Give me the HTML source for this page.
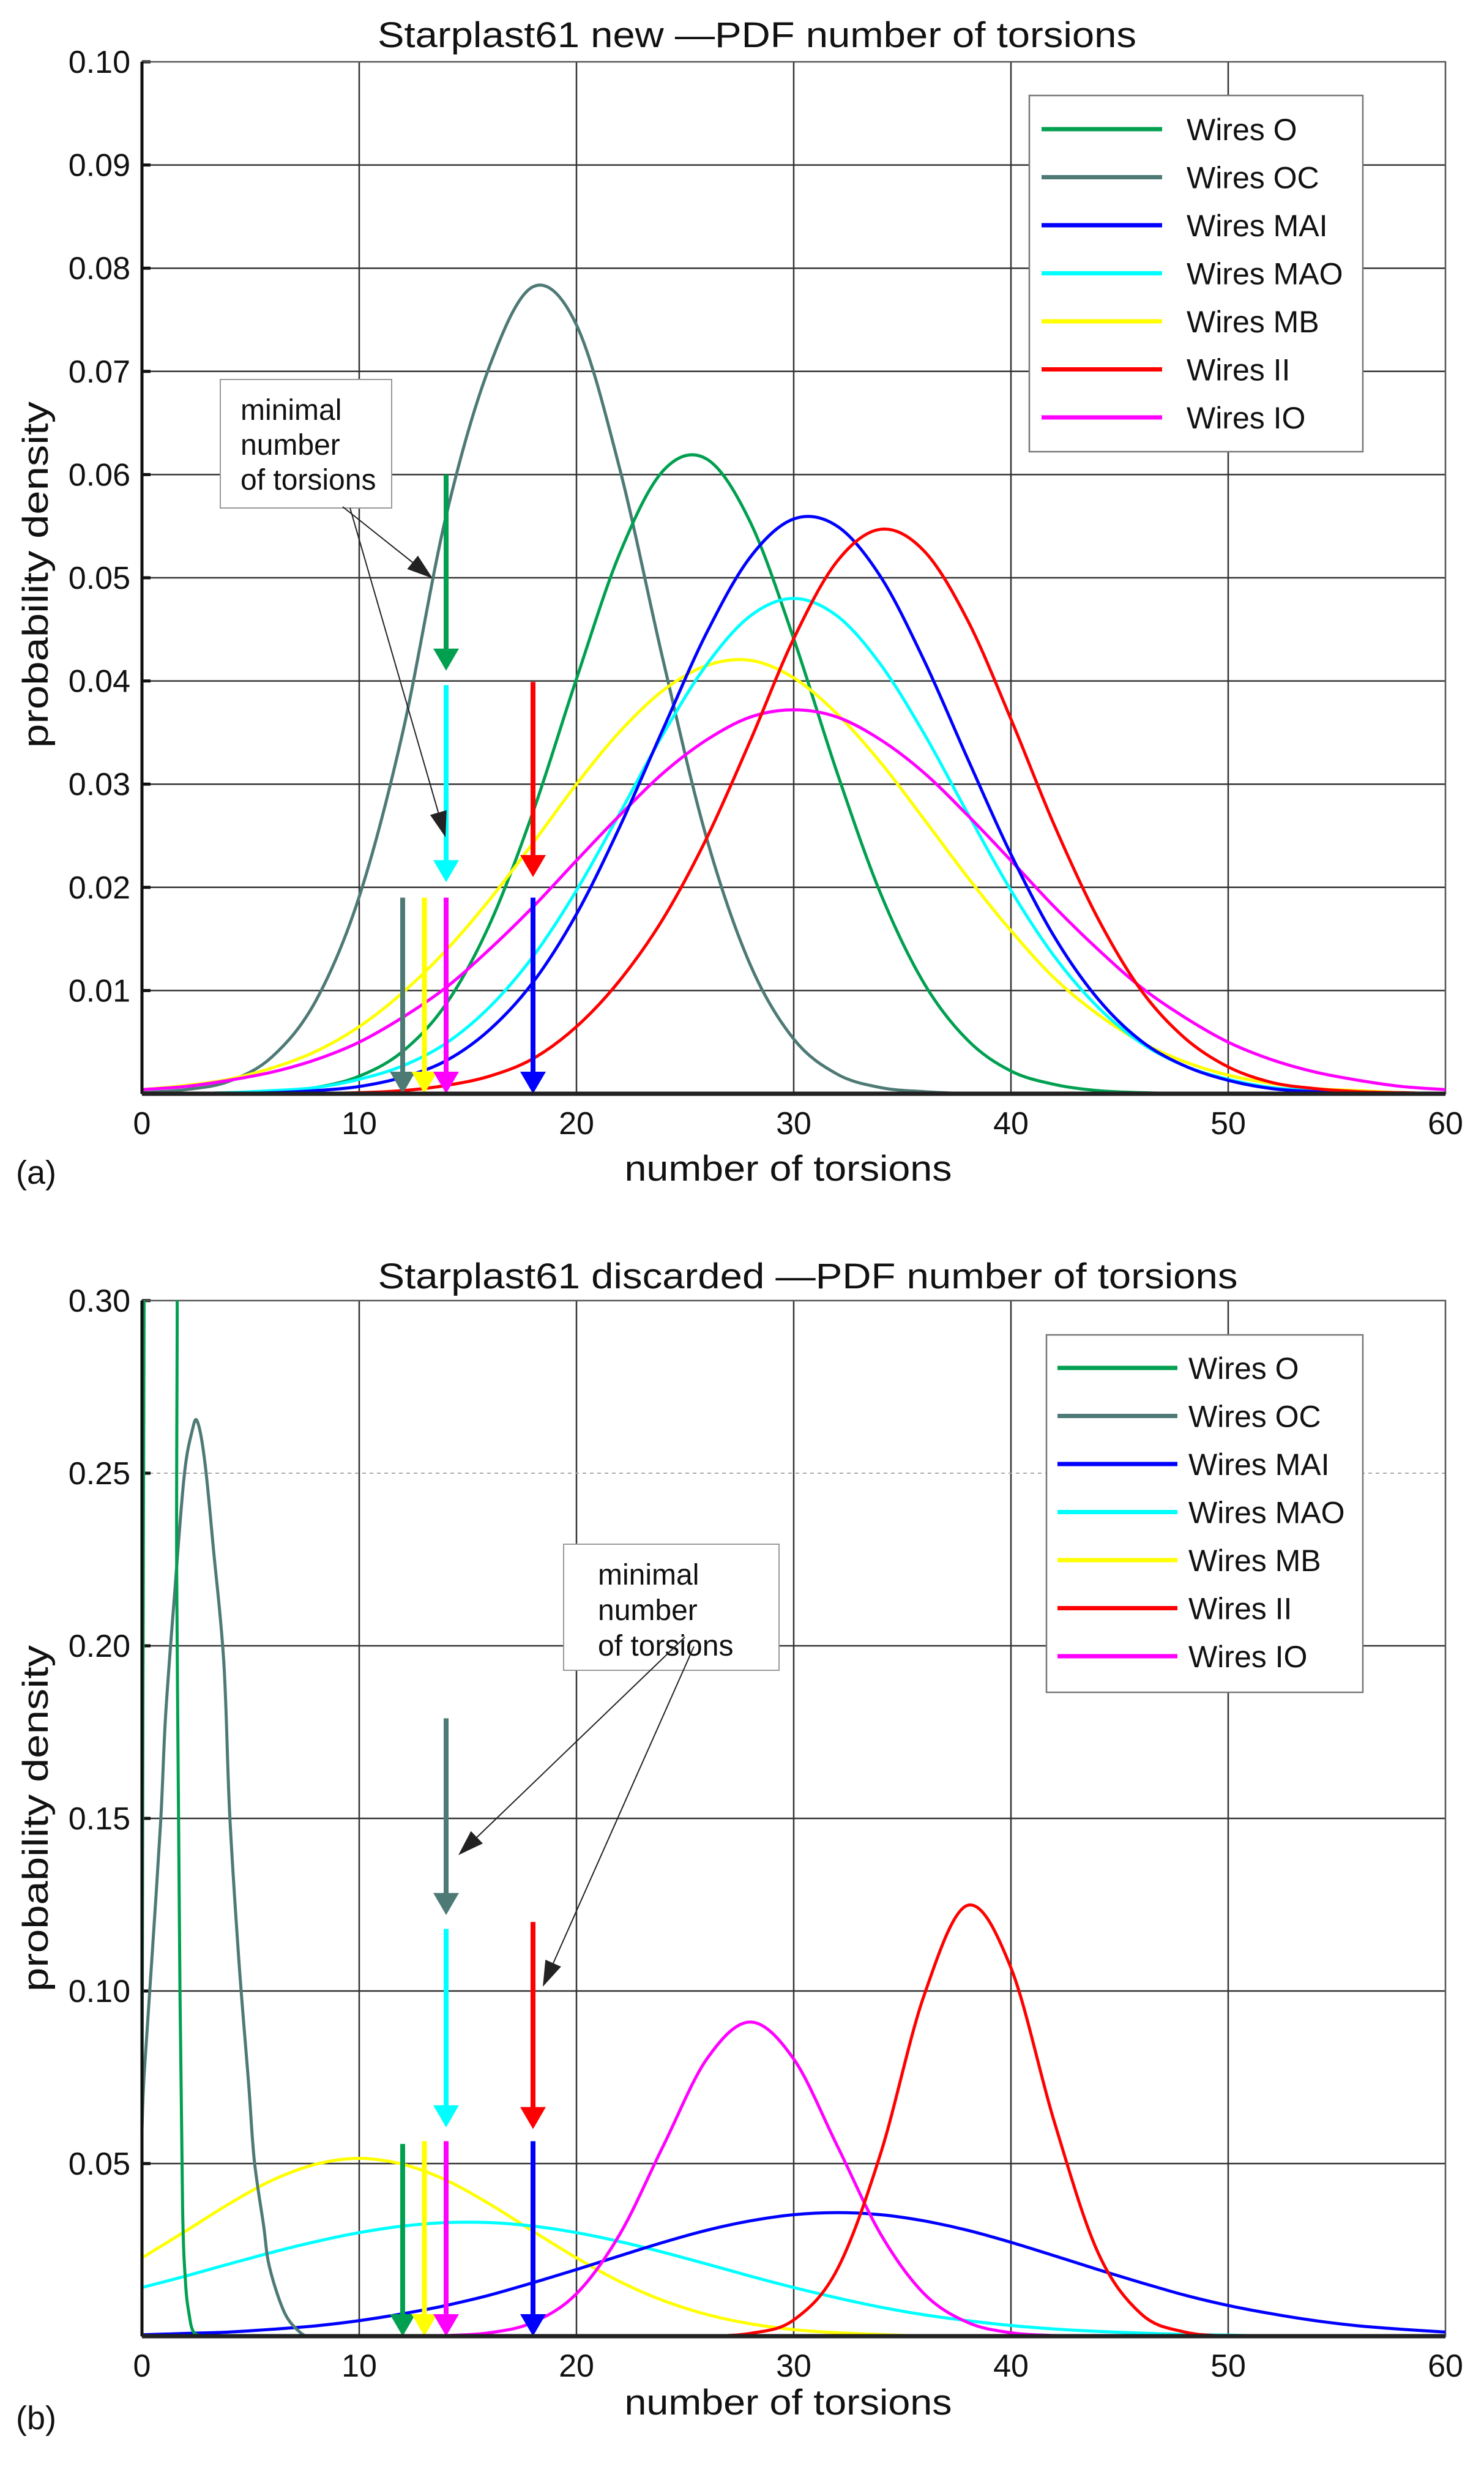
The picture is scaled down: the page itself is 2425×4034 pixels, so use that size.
<!DOCTYPE html>
<html><head><meta charset="utf-8"><title>Starplast61 PDF number of torsions</title>
<style>
html,body{margin:0;padding:0;background:#fff;}
svg{display:block;font-family:"Liberation Sans",Arial,sans-serif;}
</style></head>
<body>
<svg id="fig" xmlns="http://www.w3.org/2000/svg" width="2425" height="4034" viewBox="0 0 2425 4034">
<defs>
<clipPath id="clipA"><rect x="232" y="101" width="2130" height="1686"/></clipPath>
<clipPath id="clipB"><rect x="232" y="2125" width="2130" height="1692"/></clipPath>
</defs>
<rect x="0" y="0" width="2425" height="4034" fill="#fff"/>
</svg>
<script>
// ---------- data ----------
const xTickValues = [0,10,20,30,40,50,60];
const yTicksA = [0.01,0.02,0.03,0.04,0.05,0.06,0.07,0.08,0.09,0.10];
const yTickLabelsA = ["0.01","0.02","0.03","0.04","0.05","0.06","0.07","0.08","0.09","0.10"];
const yTicksB = [0.05,0.10,0.15,0.20,0.25,0.30];
const yTickLabelsB = ["0.05","0.10","0.15","0.20","0.25","0.30"];
const seriesNames = ["Wires O","Wires OC","Wires MAI","Wires MAO","Wires MB","Wires II","Wires IO"];
const seriesColors = ["#00a050","#4e7a76","#0000ff","#00ffff","#ffff00","#ff0000","#ff00ff"];
const gridX = [0,2,4,6,8,10,12,14,16,18,20,22,24,26,28,30,32,34,36,38,40,42,44,46,48,50,52,54,56,58,60];

// panel (a) — values at gridX
const a_O   = [0,0,0.0001,0.0002,0.0006,0.0017,0.0041,0.0087,0.0164,0.0273,0.0402,0.0524,0.0604,0.0615,0.0554,0.0441,0.0311,0.0194,0.0107,0.0052,0.0022,0.0009,0.0003,0.0001,0,0,0,0,0,0,0];
const a_OC  = [0.0001,0.0004,0.0012,0.0036,0.0090,0.0191,0.0350,0.0560,0.0705,0.0782,0.0745,0.0605,0.0419,0.0247,0.0125,0.0053,0.0019,0.0006,0.0002,0,0,0,0,0,0,0,0,0,0,0,0];
const a_MAI = [0,0,0,0.0001,0.0003,0.0007,0.0016,0.0032,0.0062,0.0108,0.0174,0.0259,0.0354,0.0447,0.0520,0.0557,0.0550,0.0501,0.0420,0.0325,0.0232,0.0152,0.0092,0.0051,0.0027,0.0013,0.0005,0.0002,0.0001,0,0];
const a_MAO = [0,0,0.0001,0.0003,0.0006,0.0014,0.0027,0.0049,0.0084,0.0133,0.0197,0.0272,0.0349,0.0416,0.0463,0.0480,0.0463,0.0416,0.0349,0.0272,0.0197,0.0133,0.0084,0.0049,0.0027,0.0014,0.0006,0.0003,0.0001,0,0];
const a_MB  = [0.0004,0.0008,0.0014,0.0025,0.0041,0.0065,0.0098,0.0139,0.0188,0.0243,0.0300,0.0351,0.0391,0.0415,0.0420,0.0403,0.0368,0.0321,0.0266,0.0210,0.0158,0.0112,0.0077,0.0050,0.0031,0.0018,0.0010,0.0005,0.0003,0.0001,0];
const a_II  = [0,0,0,0,0,0.0001,0.0003,0.0008,0.0017,0.0034,0.0065,0.0110,0.0170,0.0248,0.0342,0.0441,0.0516,0.0547,0.0526,0.0459,0.0363,0.0260,0.0170,0.0100,0.0054,0.0026,0.0011,0.0005,0.0002,0.0001,0];
const a_IO  = [0.0004,0.0007,0.0013,0.0021,0.0033,0.0050,0.0074,0.0103,0.0140,0.0181,0.0226,0.0270,0.0311,0.0343,0.0365,0.0372,0.0365,0.0343,0.0311,0.0270,0.0226,0.0181,0.0140,0.0103,0.0074,0.0050,0.0033,0.0021,0.0013,0.0007,0.0004];

// panel (b)
const b_O_x  = [0,0.1,0.2,1.5,1.6,1.75,1.87,2.0,2.16,2.4,3.0];
const b_O    = [0.06,0.31,0.35,0.35,0.22,0.10,0.037,0.016,0.0067,0.001,0];
const b_OC_x = [0,0.1,0.43,0.86,1.09,1.5,1.94,2.3,2.55,2.9,3.29,3.77,4.04,4.47,4.9,5.17,5.6,5.87,6.57,7.3,7.7];
const b_OC   = [0.060,0.076,0.107,0.149,0.180,0.215,0.249,0.262,0.265,0.253,0.228,0.195,0.151,0.108,0.074,0.051,0.032,0.020,0.0067,0.001,0];
const b_MAI = [0.0004,0.0008,0.0012,0.0020,0.0030,0.0045,0.0065,0.0089,0.0119,0.0155,0.0193,0.0233,0.0272,0.0307,0.0334,0.0352,0.0358,0.0352,0.0334,0.0307,0.0272,0.0233,0.0193,0.0155,0.0119,0.0089,0.0065,0.0045,0.0030,0.0020,0.0012];
const b_MAO = [0.0141,0.0174,0.0209,0.0243,0.0274,0.0300,0.0319,0.0329,0.0329,0.0319,0.0300,0.0274,0.0243,0.0209,0.0174,0.0141,0.0111,0.0084,0.0062,0.0045,0.0031,0.0021,0.0014,0.0009,0.0005,0.0003,0,0,0,0,0];
const b_MB  = [0.0227,0.0304,0.0383,0.0452,0.0498,0.0515,0.0498,0.0452,0.0383,0.0304,0.0227,0.0158,0.0103,0.0063,0.0036,0.0019,0.0010,0.0005,0,0,0,0,0,0,0,0,0,0,0,0,0];
const b_II  = [0,0,0,0,0,0,0,0,0,0,0,0,0,0,0.0008,0.0047,0.0193,0.0529,0.0987,0.1248,0.1067,0.0620,0.0243,0.0064,0.0012,0,0,0,0,0,0];
const b_IO  = [0,0,0,0,0,0,0,0.0002,0.0010,0.0040,0.0123,0.0296,0.0552,0.0803,0.0910,0.0803,0.0552,0.0296,0.0123,0.0040,0.0010,0.0002,0,0,0,0,0,0,0,0,0];

// minimal-number markers (x in torsions, from/to in density)
const markA_series = [0,3,5,1,4,6,2];
const markA_x      = [14,14,18,12,13,14,18];
const markA_from   = [0.060,0.0396,0.0399,0.019,0.019,0.019,0.019];
const markA_to     = [0.041,0.0205,0.021,0,0,0,0];
const markB_series = [1,3,5,0,4,6,2];
const markB_x      = [14,14,18,12,13,14,18];
const markB_from   = [0.179,0.118,0.120,0.0557,0.0565,0.0565,0.0565];
const markB_to     = [0.122,0.0605,0.060,0,0,0,0];

// ---------- helpers ----------
const NS = "http://www.w3.org/2000/svg";
const svg = document.getElementById('fig');
function mk(tag, attrs, parent){
  const e = document.createElementNS(NS, tag);
  for (const k in attrs) e.setAttribute(k, attrs[k]);
  (parent||svg).appendChild(e);
  return e;
}
function makeAxis(x0,x1,y0,y1,ymax){
  return {sx:u=>x0+u*(x1-x0)/60, sy:v=>y0-v*(y0-y1)/ymax, x0,x1,y0,y1};
}
const AX = makeAxis(232,2362,1787,101,0.10);
const BX = makeAxis(232,2362,3817,2125,0.30);

function smoothPath(pts){
  if(pts.length<2) return "";
  let d = "M"+pts[0][0].toFixed(1)+","+pts[0][1].toFixed(1);
  for(let i=0;i<pts.length-1;i++){
    const p0=pts[Math.max(0,i-1)], p1=pts[i], p2=pts[i+1], p3=pts[Math.min(pts.length-1,i+2)];
    const c1x=p1[0]+(p2[0]-p0[0])/6, c1y=p1[1]+(p2[1]-p0[1])/6;
    const c2x=p2[0]-(p3[0]-p1[0])/6, c2y=p2[1]-(p3[1]-p1[1])/6;
    d+=" C"+c1x.toFixed(1)+","+c1y.toFixed(1)+" "+c2x.toFixed(1)+","+c2y.toFixed(1)+" "+p2[0].toFixed(1)+","+p2[1].toFixed(1);
  }
  return d;
}
function trimmed(xs, ys){
  let s=0, e=ys.length-1;
  while(s<ys.length-1 && ys[s+1]===0 && ys[s]===0) s++;
  while(e>0 && ys[e-1]===0 && ys[e]===0) e--;
  const out=[];
  for(let i=s;i<=e;i++) out.push([xs[i],ys[i]]);
  return out;
}

function drawPanel(ax, yTicks, yLabels, dottedVal, clipId, tag){
  const g = mk('g',{});
  
  
  xTickValues.forEach(t=>{
    if(t===0||t===60) return;
    const l = mk('line',{x1:ax.sx(t),x2:ax.sx(t),y1:ax.y1,y2:ax.y0,stroke:'#333','stroke-width':2.5},g);
    
    
  });
  yTicks.forEach((t,i)=>{
    const y = ax.sy(t);
    const dotted = (t===dottedVal);
    if(Math.abs(y-ax.y1)>1){
      const l = mk('line',{x1:ax.x0,x2:ax.x1,y1:y,y2:y,stroke:dotted?'#aaa':'#333','stroke-width':dotted?2:2.5,'stroke-dasharray':dotted?'6,6':'none'},g);
      
      
    }
    const tk = mk('line',{x1:ax.x0,x2:ax.x0+14,y1:y,y2:y,stroke:'#111','stroke-width':5},g);
    
    
    const tx = mk('text',{x:213,y:y+18,'text-anchor':'end','font-size':52,fill:'#111'},g);
    tx.textContent = yLabels[i];
    
    
  });
  xTickValues.forEach(t=>{
    const tx = mk('text',{x:ax.sx(t),y:ax.y0+66,'text-anchor':'middle','font-size':52,fill:'#111'},g);
    tx.textContent = String(t);
    
    
  });
  const fr = mk('rect',{x:ax.x0,y:ax.y1,width:ax.x1-ax.x0,height:ax.y0-ax.y1,fill:'none',stroke:'#555','stroke-width':2.5},g);
  
  
  return g;
}

function drawSeries(ax, clipId, xs, ys, color, name){
  const pts = trimmed(xs, ys).map(p=>[ax.sx(p[0]), ax.sy(p[1])]);
  const p = mk('path',{d:smoothPath(pts),fill:'none',stroke:color,'stroke-width':5,'stroke-linejoin':'round','clip-path':'url(#'+clipId+')'});
  
  
}

function drawMarker(ax, x, from, to, color, name){
  const X = ax.sx(x), Y1 = ax.sy(from), Y2 = ax.sy(to);
  const g = mk('g',{});
  
  
  mk('line',{x1:X,x2:X,y1:Y1,y2:Y2-30,stroke:color,'stroke-width':8},g);
  mk('polygon',{points:(X-21)+','+(Y2-36)+' '+(X+21)+','+(Y2-36)+' '+X+','+Y2,fill:color},g);
}

function drawAxesDark(ax, tag){
  const l = mk('line',{x1:ax.x0,x2:ax.x0,y1:ax.y1,y2:ax.y0,stroke:'#111','stroke-width':5});
  
  
  const b = mk('line',{x1:ax.x0,x2:ax.x1,y1:ax.y0,y2:ax.y0,stroke:'#222','stroke-width':7});
  
  
}

function drawLegend(x,y,w,h,firstY,step,lx1,lx2,tx,tag){
  const g = mk('g',{});
  
  
  mk('rect',{x:x,y:y,width:w,height:h,fill:'#fff',stroke:'#777','stroke-width':2.5},g);
  seriesNames.forEach((n,i)=>{
    const cy = firstY + i*step;
    const e = mk('g',{},g);
    
    
    mk('line',{x1:lx1,x2:lx2,y1:cy,y2:cy,stroke:seriesColors[i],'stroke-width':7},e);
    const t = mk('text',{x:tx,y:cy+18,'font-size':50,fill:'#111'},e);
    t.textContent = n;
  });
}

function drawNote(x,y,w,h,tx,lines,lineStep,arrows,tag){
  const g = mk('g',{});
  
  
  mk('rect',{x:x,y:y,width:w,height:h,fill:'#fff',stroke:'#999','stroke-width':2},g);
  lines.forEach((s,i)=>{
    const t = mk('text',{x:tx,y:y+66+i*lineStep,'font-size':48,fill:'#111'},g);
    t.textContent = s;
  });
  arrows.forEach(a=>{
    const [x1,y1,x2,y2]=a;
    const ang = Math.atan2(y2-y1,x2-x1), L=42, W=14;
    const bx = x2-L*Math.cos(ang), by = y2-L*Math.sin(ang);
    mk('line',{x1:x1,y1:y1,x2:bx,y2:by,stroke:'#222','stroke-width':2},g);
    const px=-Math.sin(ang)*W, py=Math.cos(ang)*W;
    mk('polygon',{points:(bx+px)+','+(by+py)+' '+(bx-px)+','+(by-py)+' '+x2+','+y2,fill:'#222'},g);
  });
}

function addText(x,y,str,size,name,opts){
  const t = mk('text',Object.assign({x:x,y:y,'font-size':size,fill:'#111'},opts||{}));
  t.textContent = str;
  
  
  return t;
}

// ---------- panel (a) ----------
drawPanel(AX, yTicksA, yTickLabelsA, null, 'clipA', 'a');
const seriesA = [a_O,a_OC,a_MAI,a_MAO,a_MB,a_II,a_IO];
const drawOrderA = [1,0,4,3,6,2,5];
drawOrderA.forEach(i=>drawSeries(AX,'clipA',gridX,seriesA[i],seriesColors[i],'curve-a-'+seriesNames[i].toLowerCase().replace(/ /g,'-')));
markA_series.forEach((si,k)=>drawMarker(AX, markA_x[k], markA_from[k], markA_to[k], seriesColors[si], 'marker-a-'+seriesNames[si].toLowerCase().replace(/ /g,'-')));
drawAxesDark(AX,'a');
drawLegend(1682,156,545,582,211,78.5,1702,1899,1939,'a');
drawNote(360,620,280,210,393,["minimal","number","of torsions"],57,[[560,828,707,945],[572,830,728,1368]],'a');
addText(1237,77,"Starplast61 new \u2014PDF number of torsions",58,'chart-title-a',{'text-anchor':'middle',textLength:1240,lengthAdjust:'spacingAndGlyphs'});
addText(1288,1929,"number of torsions",58,'x-axis-title-a',{'text-anchor':'middle',textLength:535,lengthAdjust:'spacingAndGlyphs'});
addText(26,1934,"(a)",54,'panel-label-a',{});
addText(0,0,"probability density",58,'y-axis-title-a',{'text-anchor':'middle',transform:'translate(78,939) rotate(-90)',textLength:566,lengthAdjust:'spacingAndGlyphs'});

// ---------- panel (b) ----------
drawPanel(BX, yTicksB, yTickLabelsB, 0.25, 'clipB', 'b');
drawSeries(BX,'clipB',gridX,b_MB,seriesColors[4],'curve-b-wires-mb');
drawSeries(BX,'clipB',gridX,b_MAO,seriesColors[3],'curve-b-wires-mao');
drawSeries(BX,'clipB',gridX,b_MAI,seriesColors[2],'curve-b-wires-mai');
drawSeries(BX,'clipB',gridX,b_IO,seriesColors[6],'curve-b-wires-io');
drawSeries(BX,'clipB',gridX,b_II,seriesColors[5],'curve-b-wires-ii');
drawSeries(BX,'clipB',b_OC_x,b_OC,seriesColors[1],'curve-b-wires-oc');
drawSeries(BX,'clipB',b_O_x,b_O,seriesColors[0],'curve-b-wires-o');
markB_series.forEach((si,k)=>drawMarker(BX, markB_x[k], markB_from[k], markB_to[k], seriesColors[si], 'marker-b-'+seriesNames[si].toLowerCase().replace(/ /g,'-')));
drawAxesDark(BX,'b');
drawLegend(1710,2181,517,584,2235,78.5,1728,1924,1942,'b');
drawNote(921,2523,352,206,977,["minimal","number","of torsions"],58,[[1119,2675,749,3031],[1134,2690,887,3246]],'b');
addText(1320,2105,"Starplast61 discarded \u2014PDF number of torsions",58,'chart-title-b',{'text-anchor':'middle',textLength:1405,lengthAdjust:'spacingAndGlyphs'});
addText(1288,3945,"number of torsions",58,'x-axis-title-b',{'text-anchor':'middle',textLength:535,lengthAdjust:'spacingAndGlyphs'});
addText(26,3969,"(b)",54,'panel-label-b',{});
addText(0,0,"probability density",58,'y-axis-title-b',{'text-anchor':'middle',transform:'translate(78,2971) rotate(-90)',textLength:566,lengthAdjust:'spacingAndGlyphs'});
</script>
</body></html>
